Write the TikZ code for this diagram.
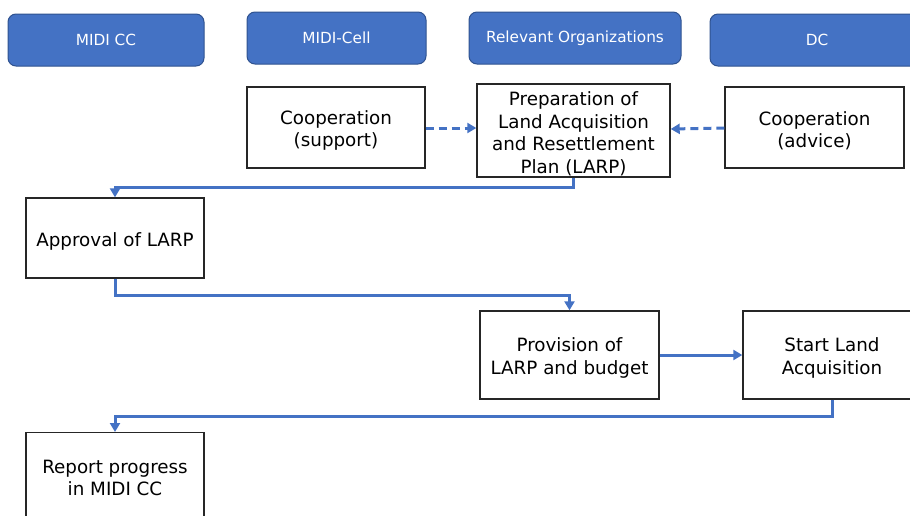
\documentclass[tikz,border=0pt]{standalone}
\usepackage{fontspec}
\setmainfont{DejaVu Sans}
\usetikzlibrary{arrows.meta,calc}
\definecolor{flowblue}{HTML}{4472C4}
\definecolor{headedge}{HTML}{2F528F}
\definecolor{boxedge}{HTML}{262626}
% invisible strut that lowers step text slightly inside its box
\newcommand{\steplift}{\rule{0pt}{20pt}}
\begin{document}
\begin{tikzpicture}[x=1pt,y=-1pt,
  header/.style={draw=headedge, line width=1pt, fill=flowblue, rounded corners=8pt,
    text=white, font=\fontsize{15.3}{18}\selectfont, inner sep=0pt},
  stepbox/.style={draw=boxedge, line width=1.4pt, fill=white, align=center,
    font=\fontsize{18.3}{22.5}\selectfont, inner sep=0pt},
  boxtext/.style={align=center, font=\fontsize{18.3}{22.5}\selectfont, inner sep=0pt},
  flow/.style={draw=flowblue, line width=3pt, -{Triangle[length=9pt,width=10pt]}},
  dashflow/.style={flow, dash pattern=on 8pt off 5pt}]
\useasboundingbox (0,0) rectangle (910,515);
\clip (0,0) rectangle (910,515);

% swimlane headers
\node[header, minimum width=196pt, minimum height=52pt] (hcc)   at (106,40)  {MIDI CC};
\node[header, minimum width=179pt, minimum height=52pt] (hcell) at (336.5,38) {MIDI-Cell};
\node[header, minimum width=212pt, minimum height=52pt] (horg)  at (575,38)  {Relevant Organizations};
\node[header, minimum width=214pt, minimum height=52pt] (hdc)   at (817,40)  {DC};

% process steps
\node[stepbox, minimum width=178pt, minimum height=81pt] (sup)  at (336,127.5)  {\steplift Cooperation\\(support)};
\node[stepbox, minimum width=193pt, minimum height=93pt] (prep) at (573.5,130.5) {\steplift Preparation of\\Land Acquisition\\and Resettlement\\Plan (LARP)};
\node[stepbox, minimum width=179pt, minimum height=81pt] (adv)  at (814.5,127.5) {\steplift Cooperation\\(advice)};
\node[stepbox, minimum width=178pt, minimum height=80pt] (appr) at (115,238)    {\steplift Approval of LARP};
\node[stepbox, minimum width=179pt, minimum height=88pt] (prov) at (569.5,355) {\steplift Provision of\\LARP and budget};
\node[stepbox, minimum width=178pt, minimum height=88pt] (start) at (832,355)  {\steplift Start Land\\Acquisition};
\node[stepbox, minimum width=178pt, minimum height=100pt, anchor=north] (report) at (115,432) {};
\node[boxtext] (reporttext) at ($(report.north)+(0,46)$) {Report progress\\in MIDI CC};

% cooperation links
\draw[dashflow] (sup.east |- 0,128) -- (prep.west |- 0,128);
\draw[dashflow] (adv.west |- 0,128) -- (prep.east |- 0,129);

% main flow
\draw[flow] (prep.south) -- ++(0,10) -| (appr.north);
\draw[flow] (appr.south) -- ++(0,17) -| (prov.north);
\draw[flow] (prov.east) -- (start.west);
\draw[flow] (start.south) -- ++(0,17) -| (report.north);
\end{tikzpicture}
\end{document}
